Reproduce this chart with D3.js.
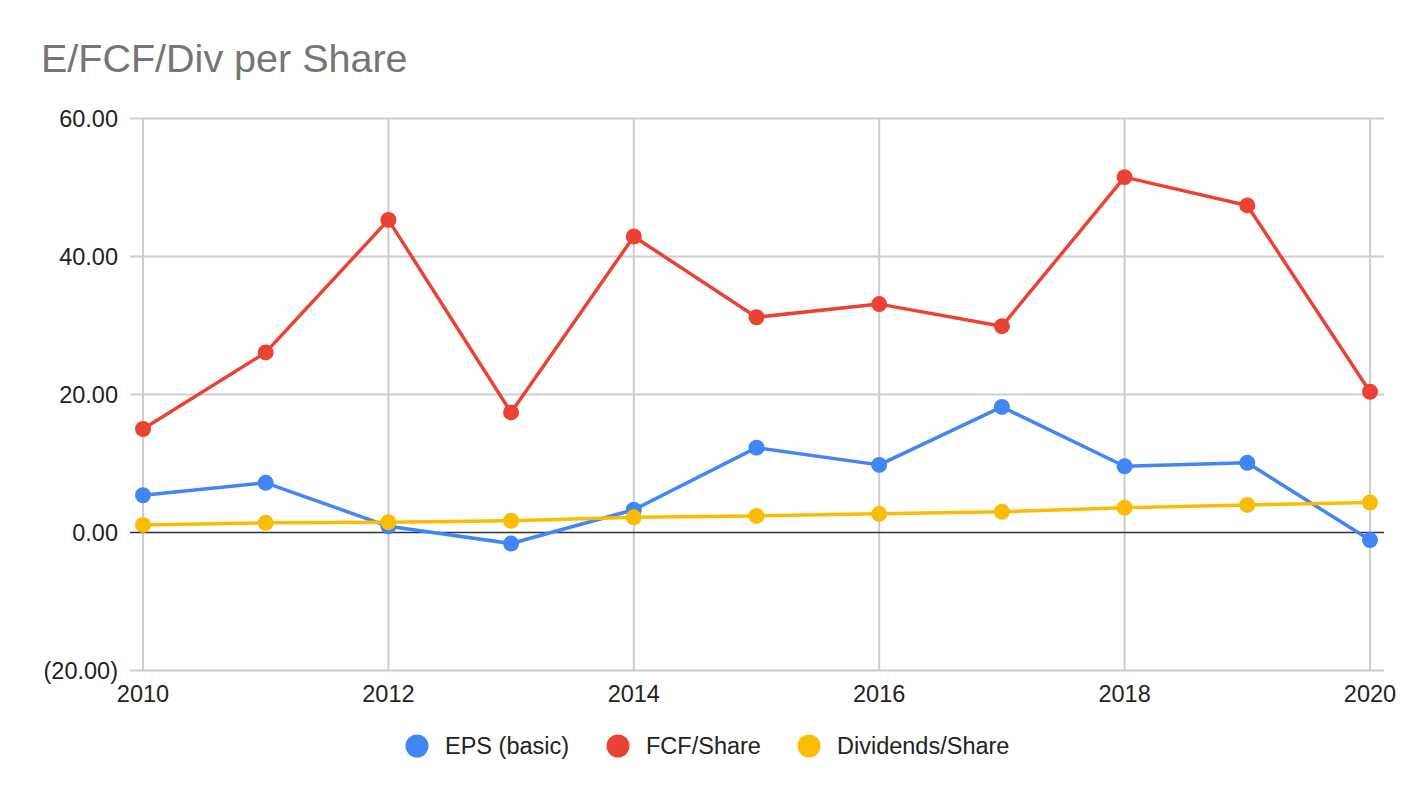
<!DOCTYPE html>
<html>
<head>
<meta charset="utf-8">
<script src="https://cdn.jsdelivr.net/npm/d3@7"></script>
<style>
  body { margin: 0; background: #fff; }
  text { font-family: Arial, "Liberation Sans", sans-serif; }
</style>
</head>
<body>
<script>
const years = [2010, 2011, 2012, 2013, 2014, 2015, 2016, 2017, 2018, 2019, 2020]
const eps = [5.4, 7.2, 0.9, -1.6, 3.3, 12.3, 9.8, 18.2, 9.6, 10.1, -1.1]
const fcf = [15.0, 26.1, 45.3, 17.4, 42.9, 31.2, 33.1, 29.9, 51.5, 47.4, 20.4]
const divs = [1.1, 1.4, 1.5, 1.7, 2.2, 2.4, 2.7, 3.0, 3.6, 4.0, 4.35]
const seriesNames = ["EPS (basic)", "FCF/Share", "Dividends/Share"]
const seriesColors = ["#4285f4", "#ea4335", "#fbbc04"]
const yTicks = [-20, 0, 20, 40, 60]
const xTicks = [2010, 2012, 2014, 2016, 2018, 2020]

const width = 1424
const height = 798

const svg = d3.select("body").append("svg")
    .attr("width", width)
    .attr("height", height)

svg.append("text")
    .attr("x", 41)
    .attr("y", 72)
    .attr("font-size", 39.5)
    .attr("fill", "#757575")
    .text("E/FCF/Div per Share")

const x = d3.scaleLinear().domain([2010, 2020]).range([143, 1370])
const y = d3.scaleLinear().domain([-20, 60]).range([670.5, 118.5])

// grid
const grid = svg.append("g")
grid.selectAll("line.h")
    .data(yTicks.filter(d => d !== 0))
    .enter()
    .append("line")
    .attr("x1", 130).attr("x2", 1384)
    .attr("y1", d => y(d)).attr("y2", d => y(d))
    .attr("stroke", "#cccccc")
    .attr("stroke-width", 2)
grid.selectAll("line.v")
    .data(xTicks)
    .enter()
    .append("line")
    .attr("x1", d => x(d)).attr("x2", d => x(d))
    .attr("y1", y(60)).attr("y2", y(-20))
    .attr("stroke", "#cccccc")
    .attr("stroke-width", 2)
grid.append("line")
    .attr("x1", 130).attr("x2", 1384)
    .attr("y1", y(0)).attr("y2", y(0))
    .attr("stroke", "#333333")
    .attr("stroke-width", 1.5)

const fmt = d => d < 0 ? "(" + d3.format(".2f")(-d) + ")" : d3.format(".2f")(d)

svg.append("g").selectAll("text")
    .data(yTicks)
    .enter()
    .append("text")
    .attr("x", 118)
    .attr("y", d => y(d) + 8)
    .attr("text-anchor", "end")
    .attr("font-size", 23.5)
    .attr("fill", "#222")
    .text(fmt)

svg.append("g").selectAll("text")
    .data(xTicks)
    .enter()
    .append("text")
    .attr("x", d => x(d))
    .attr("y", 702)
    .attr("text-anchor", "middle")
    .attr("font-size", 23.5)
    .attr("fill", "#222")
    .text(d => d)

// series
const allSeries = [eps, fcf, divs]
const line = d3.line()
    .x((d, i) => x(years[i]))
    .y(d => y(d))

allSeries.forEach((vals, k) => {
    const g = svg.append("g")
    g.append("path")
        .datum(vals)
        .attr("d", line)
        .attr("fill", "none")
        .attr("stroke", seriesColors[k])
        .attr("stroke-width", 3.5)
        .attr("stroke-linejoin", "round")
    g.selectAll("circle")
        .data(vals)
        .enter()
        .append("circle")
        .attr("cx", (d, i) => x(years[i]))
        .attr("cy", d => y(d))
        .attr("r", 8)
        .attr("fill", seriesColors[k])
})

// legend
const legendX = [417, 618, 809]
const legend = svg.append("g")
seriesNames.forEach((name, k) => {
    legend.append("circle")
        .attr("cx", legendX[k])
        .attr("cy", 746)
        .attr("r", 11.5)
        .attr("fill", seriesColors[k])
    legend.append("text")
        .attr("x", legendX[k] + 28)
        .attr("y", 754)
        .attr("font-size", 23.5)
        .attr("fill", "#222")
        .text(name)
})
</script>
</body>
</html>
